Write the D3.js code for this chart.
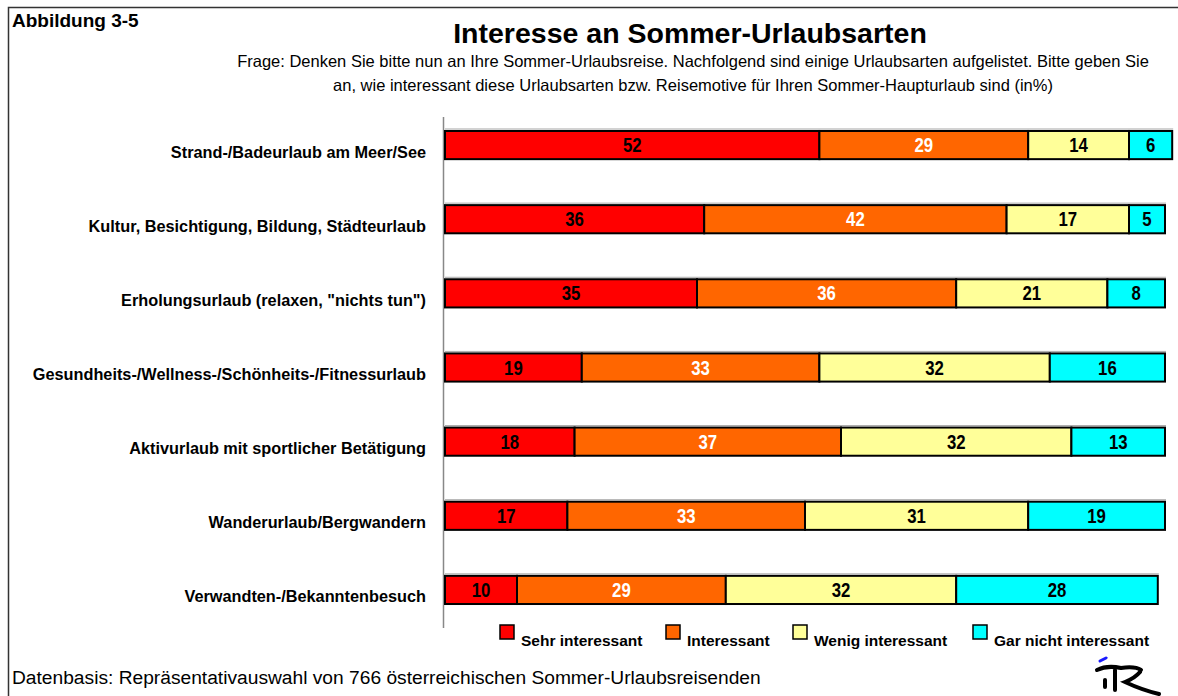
<!DOCTYPE html>
<html>
<head>
<meta charset="utf-8">
<script src="https://cdnjs.cloudflare.com/ajax/libs/d3/7.8.5/d3.min.js"></script>
<style>
  html, body { margin: 0; padding: 0; background: #fff; }
  svg { display: block; font-family: 'Liberation Sans', Arial, sans-serif; }
</style>
</head>
<body>
<div id="canvas"></div>
<script>
// data
var categories = [
  'Strand-/Badeurlaub am Meer/See',
  'Kultur, Besichtigung, Bildung, Städteurlaub',
  'Erholungsurlaub (relaxen, "nichts tun")',
  'Gesundheits-/Wellness-/Schönheits-/Fitnessurlaub',
  'Aktivurlaub mit sportlicher Betätigung',
  'Wanderurlaub/Bergwandern',
  'Verwandten-/Bekanntenbesuch'
];
var seriesNames = ['Sehr interessant', 'Interessant', 'Wenig interessant', 'Gar nicht interessant'];
var sehr    = [52, 36, 35, 19, 18, 17, 10];
var inter   = [29, 42, 36, 33, 37, 33, 29];
var wenig   = [14, 17, 21, 32, 32, 31, 32];
var garNich = [6, 5, 8, 16, 13, 19, 28];
var colors = ['#ff0000', '#ff6600', '#ffff99', '#00ffff'];
var textColors = ['#000', '#fff', '#000', '#000'];

var W = 1178, H = 696;
var svg = d3.select('#canvas').append('svg')
  .attr('width', W).attr('height', H);

// frame
svg.append('path')
  .attr('d', 'M8.5,' + H + 'V7.5H1178')
  .attr('fill', 'none').attr('stroke', '#333').attr('stroke-width', 1.5);

svg.append('text').attr('x', 12).attr('y', 27)
  .attr('font-size', 19).attr('font-weight', 'bold').text('Abbildung 3-5');

svg.append('text').attr('x', 690).attr('y', 43).attr('text-anchor', 'middle')
  .attr('font-size', 28.5).attr('font-weight', 'bold').text('Interesse an Sommer-Urlaubsarten');

svg.append('text').attr('x', 693).attr('y', 67).attr('text-anchor', 'middle')
  .attr('font-size', 16.5)
  .text('Frage: Denken Sie bitte nun an Ihre Sommer-Urlaubsreise. Nachfolgend sind einige Urlaubsarten aufgelistet. Bitte geben Sie');
svg.append('text').attr('x', 693).attr('y', 91).attr('text-anchor', 'middle')
  .attr('font-size', 16.5)
  .text('an, wie interessant diese Urlaubsarten bzw. Reisemotive für Ihren Sommer-Haupturlaub sind (in%)');

// scales
var scaleX = d3.scaleLinear().domain([0, 100]).range([445, 1165]);
var scaleY = d3.scaleBand().domain(categories).range([108, 627]).paddingInner(0.62).paddingOuter(0.31);

var rows = categories.map(function(c, i){
  var vals = [sehr[i], inter[i], wenig[i], garNich[i]];
  var acc = 0;
  return vals.map(function(v, k){
    var seg = {cat: c, k: k, v: v, x0: acc, x1: acc + v};
    acc += v;
    return seg;
  });
});

var plot = svg.append('g');

// axis line
plot.append('line')
  .attr('x1', 443.5).attr('x2', 443.5).attr('y1', 117).attr('y2', 628)
  .attr('stroke', '#888').attr('stroke-width', 1.5);

// category labels
plot.selectAll('.cat').data(categories).enter().append('text')
  .attr('class', 'cat')
  .attr('x', 426)
  .attr('y', function(d){ return scaleY(d) + scaleY.bandwidth() / 2 + 12.5; })
  .attr('text-anchor', 'end')
  .attr('font-size', 16.3).attr('font-weight', 'bold')
  .text(function(d){ return d; });

var segs = d3.merge(rows);

// faint shadow line above bars
plot.selectAll('.shade').data(rows).enter().append('line')
  .attr('x1', scaleX(0)).attr('x2', function(d){ return scaleX(d[3].x1) + 1; })
  .attr('y1', function(d){ return scaleY(d[0].cat) - 2; })
  .attr('y2', function(d){ return scaleY(d[0].cat) - 2; })
  .attr('stroke', '#aaa').attr('stroke-width', 1);

plot.selectAll('.seg').data(segs).enter().append('rect')
  .attr('class', 'seg')
  .attr('x', function(d){ return scaleX(d.x0); })
  .attr('y', function(d){ return scaleY(d.cat); })
  .attr('width', function(d){ return scaleX(d.x1) - scaleX(d.x0); })
  .attr('height', scaleY.bandwidth())
  .attr('fill', function(d){ return colors[d.k]; })
  .attr('stroke', '#000').attr('stroke-width', 2);

plot.selectAll('.val').data(segs).enter().append('text')
  .attr('class', 'val')
  .attr('transform', function(d){
    var x = (scaleX(d.x0) + scaleX(d.x1)) / 2;
    var y = scaleY(d.cat) + scaleY.bandwidth() / 2 + 7;
    return 'translate(' + x + ',' + y + ') scale(0.86,1)';
  })
  .attr('text-anchor', 'middle')
  .attr('font-size', 19.5).attr('font-weight', 'bold')
  .attr('fill', function(d){ return textColors[d.k]; })
  .text(function(d){ return d.v; });

// legend
var legX = [500, 666, 793, 973];
var leg = svg.selectAll('.leg').data(seriesNames).enter().append('g')
  .attr('class', 'leg')
  .attr('transform', function(d, i){ return 'translate(' + legX[i] + ',625)'; });
leg.append('rect').attr('x', 0).attr('y', 0).attr('width', 14).attr('height', 14)
  .attr('fill', function(d, i){ return colors[i]; })
  .attr('stroke', '#000').attr('stroke-width', 1.5);
leg.append('text').attr('x', 21).attr('y', 21)
  .attr('font-size', 15.5).attr('font-weight', 'bold')
  .text(function(d){ return d; });

svg.append('text').attr('x', 12).attr('y', 684)
  .attr('font-size', 19.2).text('Datenbasis: Repräsentativauswahl von 766 österreichischen Sommer-Urlaubsreisenden');

// logo
var logo = svg.append('g').attr('transform', 'translate(1097,656)').attr('fill', 'none')
  .attr('stroke', '#000').attr('stroke-width', 4).attr('stroke-linecap', 'round');
logo.append('path').attr('d', 'M3,5 L9,2').attr('stroke', '#1a1aff').attr('stroke-width', 3);
logo.append('path').attr('d', 'M0,14 Q10,9 24,12 Q38,10 44,14');
logo.append('path').attr('d', 'M8,24 L8,31');
logo.append('path').attr('d', 'M18,14 L18,34');
logo.append('path').attr('d', 'M43,16 Q38,22 28,26 Q45,34 62,38');
</script>
</body>
</html>
